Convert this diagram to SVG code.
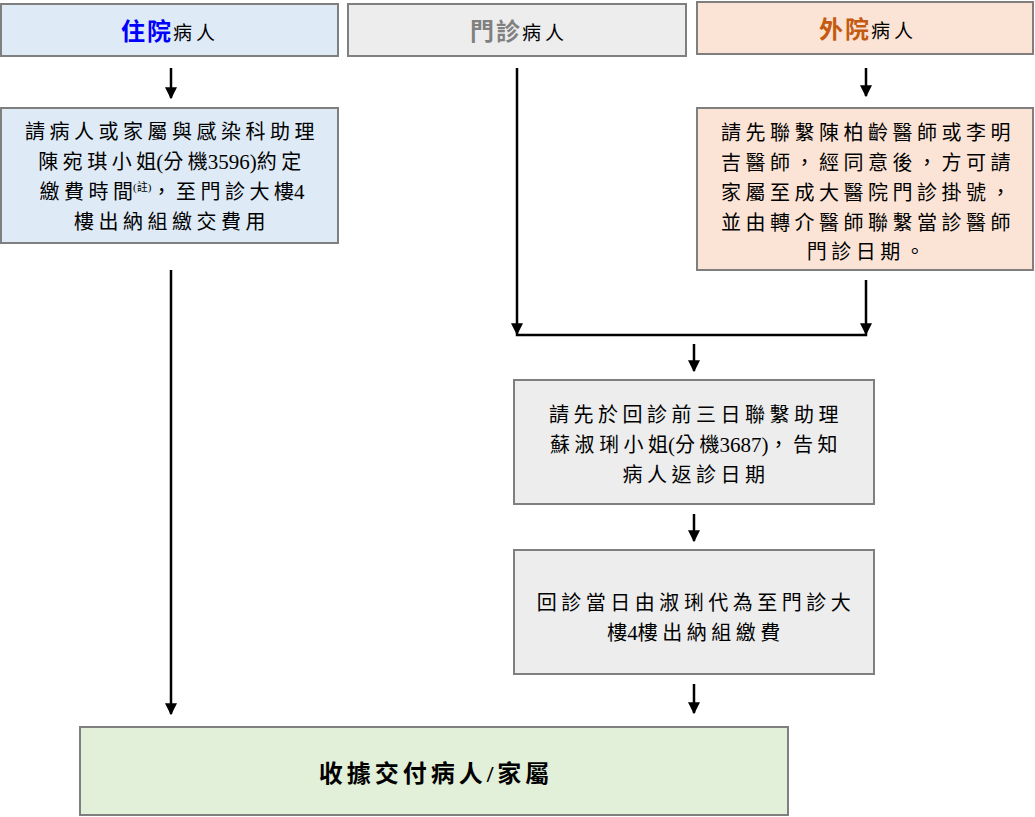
<svg xmlns="http://www.w3.org/2000/svg" width="1035" height="817" viewBox="0 0 1035 817">
<defs>
<style>
.box{stroke:#7f7f7f;stroke-width:2}
.t{font-family:"Liberation Serif","Noto Sans CJK TC",serif;font-size:20px;fill:#000;text-anchor:middle;letter-spacing:4.5px}
.n{letter-spacing:0;font-size:21px}
.z{letter-spacing:0}
.h{font-family:"Liberation Serif","Noto Sans CJK TC",serif;text-anchor:middle}
.c{stroke:#000;stroke-width:2.5;fill:none}
</style>
<marker id="ah" markerWidth="12" markerHeight="12" refX="9" refY="5" orient="auto" markerUnits="userSpaceOnUse" viewBox="0 0 10 10">
<path d="M0,0 L10,5 L0,10 Z" fill="#000"/>
</marker>
</defs>
<rect width="1035" height="817" fill="#fff"/>

<g id="n-inpatient">
<rect class="box" x="1" y="4" width="337" height="52" fill="#DEEAF6"/>
<text class="h" x="170" y="40"><tspan font-size="24" font-weight="bold" fill="#0000FF" letter-spacing="2">住院</tspan><tspan font-size="19" fill="#000" letter-spacing="4">病人</tspan></text>
</g>
<g id="n-outpatient">
<rect class="box" x="348" y="4" width="338" height="52" fill="#EDEDED"/>
<text class="h" x="519" y="40"><tspan font-size="24" font-weight="bold" fill="#808080" letter-spacing="2">門診</tspan><tspan font-size="19" fill="#000" letter-spacing="4">病人</tspan></text>
</g>
<g id="n-external">
<rect class="box" x="697" y="2" width="336" height="52" fill="#FBE4D5"/>
<text class="h" x="868" y="38"><tspan font-size="24" font-weight="bold" fill="#C55A11" letter-spacing="2">外院</tspan><tspan font-size="19" fill="#000" letter-spacing="4">病人</tspan></text>
</g>

<g id="n-inpatient-step">
<rect class="box" x="1" y="108" width="337" height="135" fill="#DEEAF6"/>
<text class="t" x="172" y="139">請病人或家屬與感染科助理</text>
<text class="t" x="172" y="169">陳宛琪小<tspan class="z">姐</tspan><tspan class="n">(</tspan>分<tspan class="z">機</tspan><tspan class="n">3596)</tspan>約定</text>
<text class="t" x="172" y="199">繳費時<tspan class="z">間</tspan><tspan font-size="11" dy="-8" letter-spacing="0">(註)</tspan><tspan dy="8">，至門診大<tspan class="z">樓</tspan></tspan><tspan class="n">4</tspan></text>
<text class="t" x="172" y="229">樓出納組繳交費用</text>
</g>

<g id="n-external-step">
<rect class="box" x="697" y="108" width="336" height="162" fill="#FBE4D5"/>
<text class="t" x="868" y="140">請先聯繫陳柏齡醫師或李明</text>
<text class="t" x="868" y="170">吉醫師，經同意後，方可請</text>
<text class="t" x="868" y="200">家屬至成大醫院門診掛號，</text>
<text class="t" x="868" y="230">並由轉介醫師聯繫當診醫師</text>
<text class="t" x="868" y="259">門診日期。</text>
</g>

<g id="n-contact">
<rect class="box" x="514" y="380" width="360" height="124" fill="#EDEDED"/>
<text class="t" x="696" y="422">請先於回診前三日聯繫助理</text>
<text class="t" x="696" y="452">蘇淑琍小<tspan class="z">姐</tspan><tspan class="n">(</tspan>分<tspan class="z">機</tspan><tspan class="n">3687)</tspan>，告知</text>
<text class="t" x="696" y="482">病人返診日期</text>
</g>

<g id="n-pay">
<rect class="box" x="514" y="550" width="360" height="124" fill="#EDEDED"/>
<text class="t" x="696" y="610">回診當日由淑琍代為至門診大</text>
<text class="t" x="696" y="640"><tspan class="z">樓</tspan><tspan class="n">4</tspan>樓出納組繳費</text>
</g>

<g id="n-receipt">
<rect class="box" x="80" y="727" width="708" height="88" fill="#E2EFD9"/>
<text class="h" x="436" y="782" font-size="24" font-weight="bold" letter-spacing="4">收據交付病人/家屬</text>
</g>

<g id="connectors">
<line class="c" x1="171" y1="68" x2="171" y2="98" marker-end="url(#ah)"/>
<line class="c" x1="866" y1="68" x2="866" y2="96" marker-end="url(#ah)"/>
<line class="c" x1="517" y1="68" x2="517" y2="334" marker-end="url(#ah)"/>
<line class="c" x1="866" y1="280" x2="866" y2="334" marker-end="url(#ah)"/>
<line class="c" x1="515.8" y1="335" x2="867.2" y2="335"/>
<line class="c" x1="694" y1="344" x2="694" y2="371" marker-end="url(#ah)"/>
<line class="c" x1="694" y1="514" x2="694" y2="541" marker-end="url(#ah)"/>
<line class="c" x1="171" y1="270" x2="171" y2="714" marker-end="url(#ah)"/>
<line class="c" x1="694" y1="684" x2="694" y2="713" marker-end="url(#ah)"/>
</g>
</svg>
